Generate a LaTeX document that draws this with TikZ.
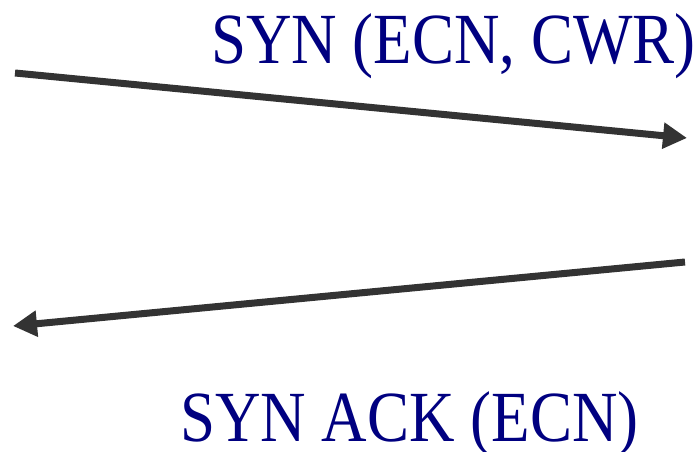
\documentclass[tikz,border=0pt]{standalone}
\usepackage{fontspec}
\setmainfont{Liberation Serif}
\newfontfamily\lblfont[FakeStretch=0.875]{Liberation Serif}
\usetikzlibrary{arrows.meta}
\definecolor{navyblue}{RGB}{0,0,128}
\definecolor{arrowgray}{RGB}{51,51,51}
\begin{document}
\begin{tikzpicture}
[x=1pt,y=1pt]
\tikzset{lbl/.style={text=navyblue,inner sep=0pt,font=\lblfont\fontsize{72}{86}\selectfont}}
\tikzset{msg/.style={draw=arrowgray,line width=7pt,-{Triangle[length=24pt,width=25pt]}}}
\useasboundingbox (0,0) rectangle (699,451);
\coordinate (a1) at (15,378);
\coordinate (b1) at (687,313);
\coordinate (a2) at (685,189);
\coordinate (b2) at (13,125);
\node [lbl,anchor=base west] (t1) at (211,388) {SYN (ECN, CWR)};
\node [lbl,anchor=base west] (t2) at (180,10) {SYN ACK (ECN)};

\foreach \from/\to in {a1/b1,a2/b2}
	\draw [msg] (\from) -- (\to);
\end{tikzpicture}
\end{document}
